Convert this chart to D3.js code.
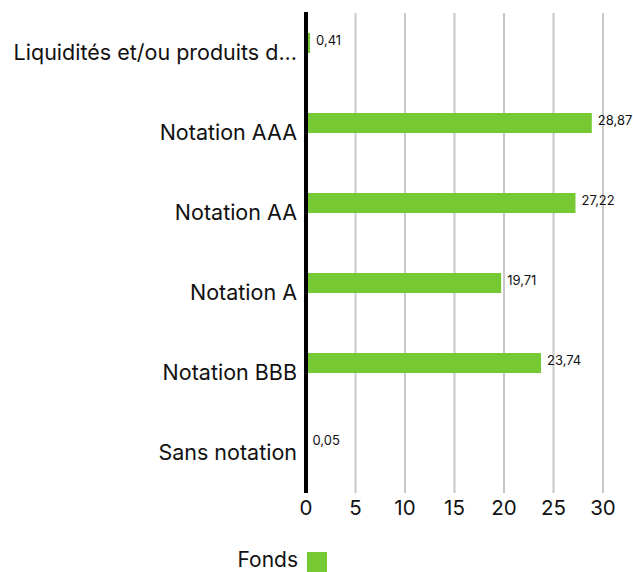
<!DOCTYPE html>
<html><head><meta charset="utf-8">
<script src="https://cdn.jsdelivr.net/npm/d3@7"></script>
<style>body{margin:0;background:#fff;}svg{display:block;}</style>
</head><body><svg id="c" width="633" height="572"></svg>
<script>
const categories = ["Liquidités et/ou produits d...", "Notation AAA", "Notation AA", "Notation A", "Notation BBB", "Sans notation"];
const values = [0.41, 28.87, 27.22, 19.71, 23.74, 0.05];
const valueLabels = ["0,41", "28,87", "27,22", "19,71", "23,74", "0,05"];
const ticks = [0, 5, 10, 15, 20, 25, 30];
const seriesName = "Fonds";
const color = "#76c933";
const font = "Inter, 'Noto Sans', sans-serif";

const svg = d3.select("#c");
const x = d3.scaleLinear().domain([0, 30]).range([306, 603]);
const y = d3.scaleBand().domain(categories).range([13, 493]);

// gridlines
svg.append("g").selectAll("line").data(ticks.filter(t => t > 0)).join("line")
  .attr("x1", d => x(d)).attr("x2", d => x(d)).attr("y1", 13).attr("y2", 493)
  .attr("stroke", "#c8c8c8").attr("stroke-width", 2);

// x tick labels
svg.append("g").selectAll("text").data(ticks).join("text")
  .attr("x", d => x(d)).attr("y", 515).attr("text-anchor", "middle")
  .attr("font-family", font).attr("font-size", 20.5).attr("fill", "#111")
  .text(d => d);

// bars
const bh = 20;
svg.append("g").selectAll("rect").data(values).join("rect")
  .attr("x", x(0)).attr("y", (d, i) => y(categories[i]) + y.bandwidth() / 2 - bh)
  .attr("width", d => x(d) - x(0)).attr("height", bh).attr("fill", color);

// value labels
svg.append("g").selectAll("text").data(values).join("text")
  .attr("x", d => x(d) + 6).attr("y", (d, i) => y(categories[i]) + y.bandwidth() / 2 - bh / 2 - 2)
  .attr("dominant-baseline", "middle")
  .attr("font-family", font).attr("font-size", 13).attr("fill", "#111")
  .text((d, i) => valueLabels[i]);

// category labels
svg.append("g").selectAll("text").data(categories).join("text")
  .attr("x", 297).attr("y", d => y(d) + y.bandwidth() / 2 + 1)
  .attr("text-anchor", "end").attr("dominant-baseline", "middle")
  .attr("font-family", font).attr("font-size", 21.5).attr("fill", "#111")
  .text(d => d);

// zero axis
svg.append("line").attr("x1", x(0)).attr("x2", x(0)).attr("y1", 12).attr("y2", 493)
  .attr("stroke", "#000").attr("stroke-width", 4);

// legend
svg.append("rect").attr("x", 307).attr("y", 552).attr("width", 20).attr("height", 20).attr("fill", color);
svg.append("text").attr("x", 298).attr("y", 561).attr("text-anchor", "end").attr("dominant-baseline", "middle")
  .attr("font-family", font).attr("font-size", 21).attr("fill", "#111").text(seriesName);
</script></body></html>
